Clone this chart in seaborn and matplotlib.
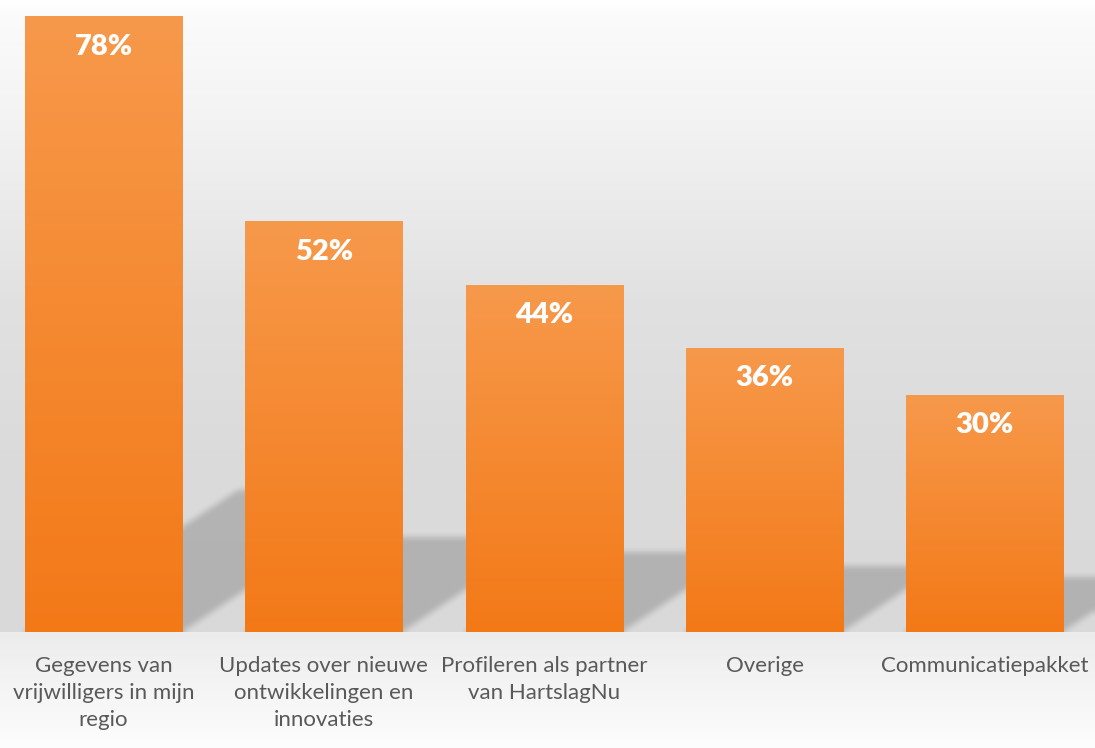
import matplotlib
matplotlib.use("Agg")
import matplotlib.pyplot as plt
import numpy as np
import pandas as pd
import seaborn as sns

# data
CATEGORIES = [
    "Gegevens van vrijwilligers in mijn regio",
    "Updates over nieuwe ontwikkelingen en innovaties",
    "Profileren als partner van HartslagNu",
    "Overige",
    "Communicatiepakket",
]
VALUES = [78, 52, 44, 36, 30]
TICK_LABELS = [
    "Gegevens van\nvrijwilligers in mijn\nregio",
    "Updates over nieuwe\nontwikkelingen en\ninnovaties",
    "Profileren als partner\nvan HartslagNu",
    "Overige",
    "Communicatiepakket",
]

# figure geometry (pixels)
W, H, DPI = 1095, 748, 100
BASE_PX = 632          # baseline, measured from top
YMAX = 80.15
XLIM = (-0.47, 4.5)

BAR_TOP = np.array([247, 153, 75]) / 255
BAR_BOTTOM = np.array([243, 121, 23]) / 255
LABEL_GREY = "#595959"

SHADOW_FRAC = 0.23     # shadow height relative to bar height
SHADOW_SLANT = 1.5     # px to the right per px up
SHADOW_ALPHA = 0.18


def box_blur(a, r, passes=2):
    for _ in range(passes):
        for axis in (0, 1):
            pad = [(0, 0), (0, 0)]
            pad[axis] = (r + 1, r)
            p = np.pad(a, pad, mode="edge")
            c = np.cumsum(p, axis=axis)
            if axis == 0:
                a = (c[2 * r + 1:] - c[:-2 * r - 1]) / (2 * r + 1)
            else:
                a = (c[:, 2 * r + 1:] - c[:, :-2 * r - 1]) / (2 * r + 1)
    return a


sns.set_theme(style="white")
plt.rcParams["font.family"] = ["Lato", "DejaVu Sans"]

fig = plt.figure(figsize=(W / DPI, H / DPI), dpi=DPI)

# wall + floor background gradient
bg = fig.add_axes([0, 0, 1, 1], zorder=0)
rows = np.arange(H)
grey = np.interp(rows,
                 [0, 15, 120, 300, 450, BASE_PX - 1, BASE_PX, 650, H - 1],
                 [255, 251, 243, 225, 219, 217, 236, 239, 253]) / 255
bg.imshow(np.repeat(grey[:, None, None], 3, axis=2), aspect="auto",
          extent=[0, 1, 0, 1], interpolation="bilinear")
bg.set_axis_off()

ax = fig.add_axes([0, (H - BASE_PX) / H, 1, BASE_PX / H], zorder=1)
ax.patch.set_alpha(0)

df = pd.DataFrame({"item": CATEGORIES, "pct": VALUES})
sns.barplot(data=df, x="item", y="pct", width=0.714, color="#F58A33",
            linewidth=0, ax=ax, zorder=3)

# slanted floor shadows behind each bar, softened with a blur
ppx = W / (XLIM[1] - XLIM[0])
ppy = BASE_PX / YMAX
xs = np.linspace(XLIM[0], XLIM[1], W)
ys = np.linspace(0, YMAX, BASE_PX)
X, Y = np.meshgrid(xs, ys)
k = SHADOW_SLANT * ppy / ppx
mask = np.zeros_like(X)
for patch in ax.patches:
    x0, w, h = patch.get_x(), patch.get_width(), patch.get_height()
    hs = SHADOW_FRAC * h
    inside = (Y <= hs) & (X >= x0 + k * Y) & (X <= x0 + w + k * Y)
    mask[inside] = 1.0
mask = box_blur(mask, 3)
shadow = np.zeros(mask.shape + (4,))
shadow[..., 3] = SHADOW_ALPHA * mask
ax.imshow(shadow, extent=[XLIM[0], XLIM[1], 0, YMAX], origin="lower",
          aspect="auto", zorder=2, interpolation="bilinear")

# vertical orange gradient on every bar + value label
grad = np.linspace(0, 1, 256)[:, None, None]
grad_img = BAR_BOTTOM * (1 - grad) + BAR_TOP * grad
for patch, val in zip(ax.patches, VALUES):
    x0, w, h = patch.get_x(), patch.get_width(), patch.get_height()
    ax.imshow(grad_img, extent=[x0, x0 + w, 0, h], origin="lower",
              aspect="auto", zorder=4, interpolation="bilinear")
    ax.annotate(f"{val}%", (x0 + w / 2, h), xytext=(0, -30),
                textcoords="offset pixels", ha="center", va="center",
                color="white", fontsize=21, fontweight="heavy", zorder=5)

ax.set_xlim(*XLIM)
ax.set_ylim(0, YMAX)
ax.set_xticks(range(len(TICK_LABELS)))
ax.set_xticklabels(TICK_LABELS, color=LABEL_GREY, fontsize=16,
                   linespacing=1.45)
ax.tick_params(axis="x", length=0, pad=17)
ax.set_yticks([])
ax.set_xlabel("")
ax.set_ylabel("")
sns.despine(ax=ax, left=True, bottom=True)

fig.savefig("out.png", dpi=DPI)
